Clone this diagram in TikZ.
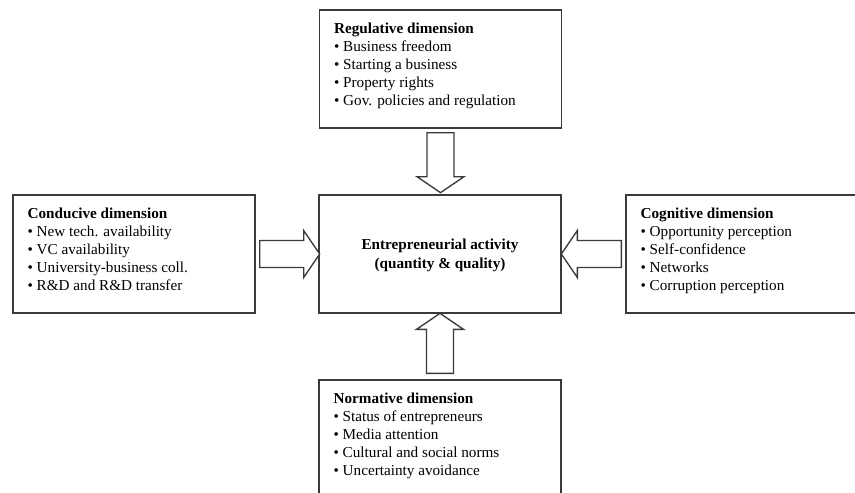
\documentclass[tikz,border=0pt]{standalone}
\usepackage{fontspec}
\setmainfont{Liberation Serif}
\usetikzlibrary{positioning}
\definecolor{Frame}{HTML}{3A3A3A}

\begin{document}
\begin{tikzpicture}[x=.75pt,y=-.75pt,line join=miter]
  \tikzset{
    dimbox/.style={draw=Frame,line width=1pt,minimum width=181.5pt,minimum height=88.5pt,
      inner sep=0pt,align=center,font=\bfseries\fontsize{11.4}{14.2}\selectfont},
    items/.style={inner sep=0pt,anchor=north west,align=left,font=\fontsize{11.4}{13.6}\selectfont},
    fat/.pic={\draw[draw=Frame,line width=1pt,fill=white] (0,-13.5) -- (44,-13.5) -- (44,-23.5)
      -- (60,0) -- (44,23.5) -- (44,13.5) -- (0,13.5) -- cycle;}
  }
  \clip (0,0) rectangle (855,492);

  % the five boxes
  \node[dimbox] (reg) at (440.5,69) {};
  \node[dimbox,text depth=0pt] (ctr) at (440,254) {Entrepreneurial activity\\(quantity \& quality)};
  \node[dimbox] (cond) at (134,254) {};
  \node[dimbox] (cog) at (747,254) {};
  \node[dimbox] (norm) at (440,439) {};

  % box texts
  \node[items,below right=9.75pt and 11.25pt of reg.north west] (regtxt)
    {\textbf{Regulative dimension}\\\textbullet\ Business freedom\\\textbullet\ Starting a business\\
     \textbullet\ Property rights\\\textbullet\ Gov. policies and regulation};
  \node[items,below right=9.75pt and 11.25pt of cond.north west] (condtxt)
    {\textbf{Conducive dimension}\\\textbullet\ New tech. availability\\\textbullet\ VC availability\\
     \textbullet\ University-business coll.\\\textbullet\ R\&D and R\&D transfer};
  \node[items,below right=9.75pt and 11.25pt of cog.north west] (cogtxt)
    {\textbf{Cognitive dimension}\\\textbullet\ Opportunity perception\\\textbullet\ Self-confidence\\
     \textbullet\ Networks\\\textbullet\ Corruption perception};
  \node[items,below right=9.75pt and 11.25pt of norm.north west] (normtxt)
    {\textbf{Normative dimension}\\\textbullet\ Status of entrepreneurs\\\textbullet\ Media attention\\
     \textbullet\ Cultural and social norms\\\textbullet\ Uncertainty avoidance};

  % block arrows into the centre
  \coordinate (tT) at ([yshift=-3pt]reg.south);
  \coordinate (tL) at ([xshift=3pt]cond.east);
  \coordinate (tR) at ([xshift=-3pt]cog.west);
  \coordinate (tB) at ([yshift=4.5pt]norm.north);
  \pic[rotate=-90] at (tT) {fat};
  \pic at (tL) {fat};
  \pic[rotate=180] at (tR) {fat};
  \pic[rotate=90] at (tB) {fat};
\end{tikzpicture}
\end{document}
